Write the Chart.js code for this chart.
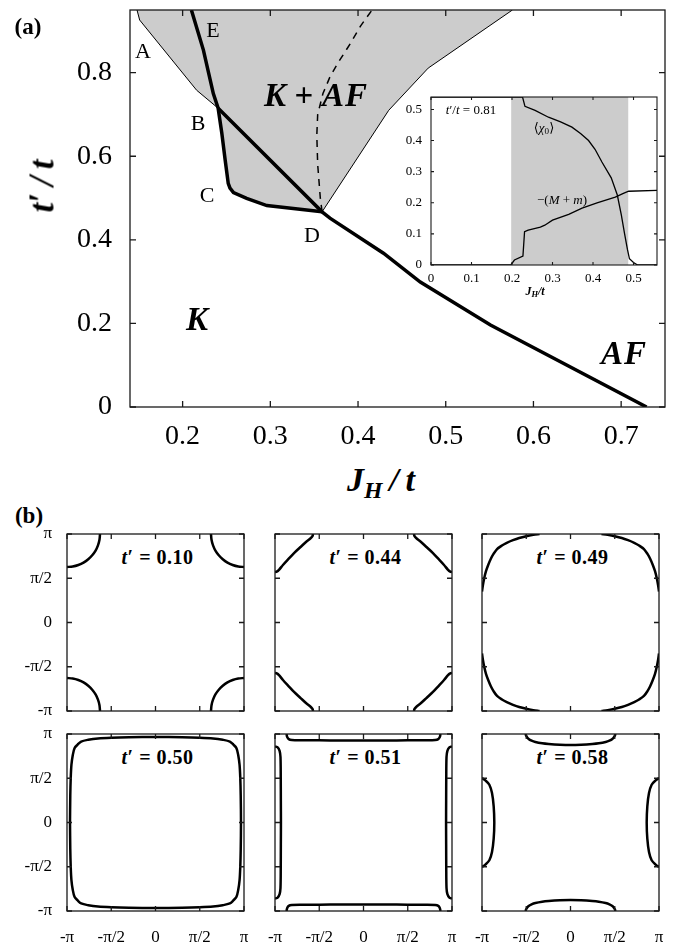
<!DOCTYPE html>
<html><head><meta charset="utf-8">
<script src="https://cdn.jsdelivr.net/npm/chart.js@4.4.1/dist/chart.umd.min.js"></script>
<style>
html,body{margin:0;padding:0;background:#fff;}
body{width:678px;height:948px;position:relative;overflow:hidden;font-family:"Liberation Serif","DejaVu Serif",serif;color:#000;}
canvas{position:absolute;}
.lab{position:absolute;line-height:1;white-space:nowrap;transform:translate(-50%,-50%);}
.bi{font-weight:bold;font-style:italic;}
sub{font-size:0.7em;vertical-align:-0.28em;line-height:0;}
</style></head><body>
<canvas id="main" width="678" height="450" style="left:0;top:0;width:678px;height:450px"></canvas>
<canvas id="inset" width="285" height="215" style="left:380px;top:90px;width:285px;height:215px"></canvas>

<div class="lab" style="left:28px;top:26px;font-size:23px;font-weight:bold">(a)</div>
<div class="lab" style="left:143px;top:51px;font-size:22px">A</div>
<div class="lab" style="left:213px;top:30px;font-size:22px">E</div>
<div class="lab" style="left:198px;top:123px;font-size:22px">B</div>
<div class="lab" style="left:207px;top:195px;font-size:22px">C</div>
<div class="lab" style="left:312px;top:235px;font-size:22px">D</div>
<div class="lab bi" style="left:316px;top:95px;font-size:33px;letter-spacing:1px">K<span style="font-style:normal">&#8201;+&#8201;</span>AF</div>
<div class="lab bi" style="left:197px;top:319px;font-size:33px">K</div>
<div class="lab bi" style="left:624px;top:353px;font-size:33px;letter-spacing:1px">AF</div>
<div class="lab bi" style="left:42px;top:186px;font-size:35px;transform:translate(-50%,-50%) rotate(-90deg)">t&#8242;&#8201;/&#8201;t</div>
<div class="lab bi" style="left:381px;top:480px;font-size:34px">J<sub>H</sub>&#8201;/&#8201;t</div>

<div class="lab" style="left:471px;top:109px;font-size:13px"><i>t</i>&#8242;/<i>t</i> = 0.81</div>
<div class="lab" style="left:544px;top:127px;font-size:13px">&#10216;<i>&#967;</i><sub>0</sub>&#10217;</div>
<div class="lab" style="left:562px;top:199px;font-size:13px">&#8722;(<i>M</i> + <i>m</i>)</div>
<div class="lab bi" style="left:535px;top:291px;font-size:12px">J<sub>H</sub>/t</div>

<div class="lab" style="left:29px;top:515px;font-size:23px;font-weight:bold">(b)</div>
<div id="panelLabels"></div>

<script>
// ---------------- (a) phase diagram data ----------------
const mainXTicks = [0.2, 0.3, 0.4, 0.5, 0.6, 0.7];
const mainXTickLabels = ['0.2', '0.3', '0.4', '0.5', '0.6', '0.7'];
const mainYTicks = [0, 0.2, 0.4, 0.6, 0.8];
const mainYTickLabels = ['0', '0.2', '0.4', '0.6', '0.8'];

// thick line E-B-C-D
const lineEBCD_JH = [0.210, 0.2237, 0.235, 0.2405, 0.2447, 0.2485, 0.252, 0.254, 0.258, 0.273, 0.296, 0.359];
const lineEBCD_tp = [0.950, 0.854, 0.750, 0.715, 0.655, 0.591, 0.535, 0.524, 0.513, 0.499, 0.482, 0.467];
// thick line B-D-(AF boundary)
const lineBDAF_JH = [0.2405, 0.359, 0.368, 0.429, 0.471, 0.551, 0.729];
const lineBDAF_tp = [0.715, 0.467, 0.452, 0.368, 0.299, 0.196, 0.0];
// thin boundary A-B
const lineAB_JH = [0.148, 0.151, 0.216, 0.2405];
const lineAB_tp = [0.950, 0.926, 0.758, 0.715];
// thin boundary D-top
const lineDtop_JH = [0.359, 0.435, 0.480, 0.576];
const lineDtop_tp = [0.467, 0.710, 0.811, 0.950];
// dashed line
const dashed_JH = [0.359, 0.357, 0.354, 0.353, 0.354, 0.360, 0.368, 0.377, 0.391, 0.403, 0.416];
const dashed_tp = [0.467, 0.500, 0.580, 0.650, 0.700, 0.750, 0.790, 0.823, 0.869, 0.912, 0.950];

// ---------------- inset data ----------------
const insetXTicks = [0, 0.1, 0.2, 0.3, 0.4, 0.5];
const insetXTickLabels = ['0', '0.1', '0.2', '0.3', '0.4', '0.5'];
const insetYTicks = [0, 0.1, 0.2, 0.3, 0.4, 0.5];
const insetYTickLabels = ['0', '0.1', '0.2', '0.3', '0.4', '0.5'];
const insetBand = [0.198, 0.487];
const chi0_JH = [0, 0.226, 0.232, 0.257, 0.29, 0.32, 0.348, 0.37, 0.389, 0.405, 0.422, 0.445, 0.46, 0.47, 0.478, 0.485, 0.49, 0.50, 0.51, 0.56];
const chi0_val = [0.54, 0.54, 0.51, 0.497, 0.475, 0.46, 0.443, 0.422, 0.40, 0.372, 0.331, 0.28, 0.225, 0.16, 0.10, 0.05, 0.02, 0.008, 0, 0];
const Mm_JH = [0, 0.197, 0.206, 0.227, 0.231, 0.24, 0.27, 0.281, 0.30, 0.34, 0.373, 0.41, 0.455, 0.475, 0.488, 0.56];
const Mm_val = [0, 0, 0.016, 0.029, 0.107, 0.112, 0.122, 0.128, 0.144, 0.163, 0.183, 0.20, 0.218, 0.23, 0.237, 0.24];

// ---------------- (b) Fermi surfaces (units of pi) ----------------
const piTicks = [-1, -0.5, 0, 0.5, 1];
const piTickLabels = ['-\u03c0', '-\u03c0/2', '0', '\u03c0/2', '\u03c0'];
const fsLabels = ['0.10', '0.44', '0.49', '0.50', '0.51', '0.58'];
// corner pieces (top-left piece, from left edge to top edge)
const fs010_kx = [-1, -0.935, -0.872, -0.813, -0.76, -0.715, -0.677, -0.65, -0.633, -0.627];
const fs010_ky = [0.627, 0.633, 0.65, 0.677, 0.715, 0.76, 0.813, 0.872, 0.935, 1];
const fs044_kx = [-1, -0.98, -0.955, -0.91, -0.85, -0.785, -0.715, -0.65, -0.595, -0.575, -0.57];
const fs044_ky = [0.57, 0.575, 0.595, 0.65, 0.715, 0.785, 0.85, 0.91, 0.955, 0.98, 1];
const fs049_kx = [-1, -0.99, -0.975, -0.955, -0.93, -0.9, -0.87, -0.83, -0.775, -0.72, -0.65, -0.58, -0.5, -0.42, -0.35];
const fs049_ky = [0.35, 0.42, 0.5, 0.58, 0.65, 0.72, 0.775, 0.83, 0.87, 0.9, 0.93, 0.955, 0.975, 0.99, 1];
// closed loop (top-left quadrant, from left-middle to top-middle)
const fs050_kx = [-0.966, -0.963, -0.958, -0.95, -0.935, -0.915, -0.88, -0.84, -0.76, -0.65, -0.5, -0.3, 0];
const fs050_ky = [0, 0.3, 0.5, 0.65, 0.76, 0.84, 0.88, 0.915, 0.935, 0.95, 0.958, 0.963, 0.966];
// edge pieces: top half-arc (from top edge to centre) and left half-arc (from left edge to centre)
const fs051_top_kx = [-0.87, -0.862, -0.845, -0.81, -0.7, -0.5, -0.25, 0];
const fs051_top_ky = [1, 0.965, 0.942, 0.932, 0.929, 0.928, 0.927, 0.927];
const fs051_left_kx = [-1, -0.97, -0.948, -0.938, -0.935, -0.934, -0.933];
const fs051_left_ky = [0.86, 0.848, 0.81, 0.74, 0.5, 0.25, 0];
const fs058_top_kx = [-0.51, -0.495, -0.473, -0.44, -0.397, -0.32, -0.247, -0.12, 0];
const fs058_top_ky = [1, 0.97, 0.944, 0.925, 0.91, 0.895, 0.887, 0.879, 0.876];
const fs058_left_kx = [-1, -0.962, -0.917, -0.887, -0.868, -0.861];
const fs058_left_ky = [0.503, 0.476, 0.427, 0.333, 0.183, 0];

// ---------------- helpers ----------------
const FONT = '"Liberation Serif","DejaVu Serif",serif';
const pts = (xs, ys) => xs.map((v, i) => ({x: v, y: ys[i]}));

function frameTicks(len, lw) {
  return {
    id: 'frameTicks',
    afterDatasetsDraw(chart) {
      const {ctx, chartArea: a, scales: {x, y}} = chart;
      ctx.save();
      ctx.strokeStyle = '#1a1a1a';
      ctx.lineWidth = lw;
      ctx.beginPath();
      x.ticks.forEach(t => {
        const p = x.getPixelForValue(t.value);
        ctx.moveTo(p, a.bottom); ctx.lineTo(p, a.bottom - len);
        ctx.moveTo(p, a.top); ctx.lineTo(p, a.top + len);
      });
      y.ticks.forEach(t => {
        const p = y.getPixelForValue(t.value);
        ctx.moveTo(a.left, p); ctx.lineTo(a.left + len, p);
        ctx.moveTo(a.right, p); ctx.lineTo(a.right - len, p);
      });
      ctx.stroke();
      ctx.strokeRect(a.left, a.top, a.right - a.left, a.bottom - a.top);
      ctx.restore();
    }
  };
}

function axis(min, max, ticks, labels, opts) {
  return {
    type: 'linear', min: min, max: max,
    grid: {display: false, drawTicks: false},
    border: {display: false},
    afterBuildTicks: s => { s.ticks = ticks.map(v => ({value: v})); },
    afterFit: s => {
      if (opts.w !== undefined) s.width = opts.w;
      if (opts.h !== undefined) s.height = opts.h;
      s.paddingTop = 0; s.paddingBottom = 0; s.paddingLeft = 0; s.paddingRight = 0;
    },
    ticks: {
      display: opts.show !== false,
      autoSkip: false, maxRotation: 0, minRotation: 0,
      padding: opts.pad, color: '#000',
      font: {family: FONT, size: opts.size},
      callback: v => labels[ticks.indexOf(v)]
    }
  };
}

function line(data, w, extra) {
  return Object.assign({data: data, showLine: true, borderColor: '#000', borderWidth: w,
    pointRadius: 0, fill: false, tension: 0}, extra || {});
}

const baseOpts = {
  responsive: false, animation: false, events: [],
  plugins: {legend: {display: false}, tooltip: {enabled: false}}
};

// ---------------- main chart ----------------
(function () {
  // shaded K+AF region: right boundary (top->D), lower thick curve (D->B), left thin boundary (B->A)
  const bIdx = lineEBCD_JH.indexOf(0.2405);
  const shade = [].concat(
    pts(lineDtop_JH, lineDtop_tp).reverse(),
    pts(lineEBCD_JH.slice(bIdx), lineEBCD_tp.slice(bIdx)).reverse(),
    pts(lineAB_JH, lineAB_tp).reverse()
  );
  const shadePlugin = {
    id: 'shade',
    beforeDatasetsDraw(chart) {
      const {ctx, chartArea: a, scales: {x, y}} = chart;
      ctx.save();
      ctx.beginPath(); ctx.rect(a.left, a.top, a.right - a.left, a.bottom - a.top); ctx.clip();
      ctx.fillStyle = '#cccccc';
      ctx.beginPath();
      shade.forEach((p, i) => {
        const px = x.getPixelForValue(p.x), py = y.getPixelForValue(p.y);
        if (i) ctx.lineTo(px, py); else ctx.moveTo(px, py);
      });
      ctx.closePath(); ctx.fill();
      ctx.restore();
    }
  };
  new Chart(document.getElementById('main'), {
    type: 'scatter',
    data: {datasets: [
      line(pts(lineAB_JH, lineAB_tp), 1),
      line(pts(lineDtop_JH, lineDtop_tp), 1),
      line(pts(dashed_JH, dashed_tp), 1.5, {borderDash: [7, 6]}),
      line(pts(lineEBCD_JH, lineEBCD_tp), 3.5),
      line(pts(lineBDAF_JH, lineBDAF_tp), 3.5)
    ]},
    options: Object.assign({}, baseOpts, {
      layout: {padding: {left: 0, right: 13, top: 10, bottom: 0}},
      scales: {
        x: axis(0.14, 0.75, mainXTicks, mainXTickLabels, {h: 43, pad: 13, size: 28}),
        y: axis(0, 0.95, mainYTicks, mainYTickLabels, {w: 130, pad: 18, size: 28})
      }
    }),
    plugins: [shadePlugin, frameTicks(6, 1.3)]
  });
})();

// ---------------- inset ----------------
(function () {
  const bandPlugin = {
    id: 'band',
    beforeDatasetsDraw(chart) {
      const {ctx, chartArea: a, scales: {x}} = chart;
      ctx.save();
      ctx.fillStyle = '#ffffff';
      ctx.fillRect(a.left, a.top, a.right - a.left, a.bottom - a.top);
      ctx.fillStyle = '#cccccc';
      const x0 = x.getPixelForValue(insetBand[0]), x1 = x.getPixelForValue(insetBand[1]);
      ctx.fillRect(x0, a.top, x1 - x0, a.bottom - a.top);
      ctx.restore();
    }
  };
  new Chart(document.getElementById('inset'), {
    type: 'scatter',
    data: {datasets: [
      line(pts(chi0_JH, chi0_val), 1.3),
      line(pts(Mm_JH, Mm_val), 1.3)
    ]},
    options: Object.assign({}, baseOpts, {
      layout: {padding: {left: 0, right: 8, top: 7, bottom: 0}},
      scales: {
        x: axis(0, 0.558, insetXTicks, insetXTickLabels, {h: 40, pad: 6, size: 13}),
        y: axis(0, 0.54, insetYTicks, insetYTickLabels, {w: 51, pad: 9, size: 13})
      }
    }),
    plugins: [bandPlugin, frameTicks(3, 1.1)]
  });
})();

// ---------------- (b) panels ----------------
function cornerPieces(kx, ky) {
  return [[1, 1], [-1, 1], [1, -1], [-1, -1]].map(([sx, sy]) =>
    kx.map((v, i) => ({x: sx * v, y: sy * ky[i]})));
}
function closedLoop(kx, ky) {
  const q = pts(kx, ky);
  const tl = q;
  const tr = q.slice(0, -1).reverse().map(p => ({x: -p.x, y: p.y}));
  const br = q.slice(1).map(p => ({x: -p.x, y: -p.y}));
  const bl = q.slice(0, -1).reverse().map(p => ({x: p.x, y: -p.y}));
  return [tl.concat(tr, br, bl)];
}
function edgePieces(tkx, tky, lkx, lky) {
  const topHalf = pts(tkx, tky);
  const top = topHalf.concat(topHalf.slice(0, -1).reverse().map(p => ({x: -p.x, y: p.y})));
  const bottom = top.map(p => ({x: p.x, y: -p.y}));
  const leftHalf = pts(lkx, lky);
  const left = leftHalf.concat(leftHalf.slice(0, -1).reverse().map(p => ({x: p.x, y: -p.y})));
  const right = left.map(p => ({x: -p.x, y: p.y}));
  return [top, bottom, left, right];
}

const panelCurves = [
  cornerPieces(fs010_kx, fs010_ky),
  cornerPieces(fs044_kx, fs044_ky),
  cornerPieces(fs049_kx, fs049_ky),
  closedLoop(fs050_kx, fs050_ky),
  edgePieces(fs051_top_kx, fs051_top_ky, fs051_left_kx, fs051_left_ky),
  edgePieces(fs058_top_kx, fs058_top_ky, fs058_left_kx, fs058_left_ky)
];

const colLeft = [67, 275, 482];
const rowTop = [534, 734];
const PSZ = 177;
const labelHost = document.getElementById('panelLabels');

panelCurves.forEach((curves, k) => {
  const col = k % 3, row = Math.floor(k / 3);
  const cv = document.createElement('canvas');
  const W = 60 + PSZ + 10, H = 10 + PSZ + 36;
  cv.width = W; cv.height = H;
  cv.style.left = (colLeft[col] - 60) + 'px';
  cv.style.top = (rowTop[row] - 10) + 'px';
  cv.style.width = W + 'px'; cv.style.height = H + 'px';
  document.body.appendChild(cv);
  new Chart(cv, {
    type: 'scatter',
    data: {datasets: curves.map(c => line(c, 2.5, {tension: 0.3}))},
    options: Object.assign({}, baseOpts, {
      layout: {padding: {left: 0, right: 10, top: 10, bottom: 0}},
      scales: {
        x: axis(-1, 1, piTicks, piTickLabels, {h: 36, pad: 16, size: 17, show: row === 1}),
        y: axis(-1, 1, piTicks, piTickLabels, {w: 60, pad: 15, size: 17, show: col === 0})
      }
    }),
    plugins: [frameTicks(5, 1.3)]
  });
  const lab = document.createElement('div');
  lab.className = 'lab';
  lab.style.left = (colLeft[col] + PSZ / 2 + 2) + 'px';
  lab.style.top = (rowTop[row] + 23) + 'px';
  lab.style.fontSize = '20px';
  lab.style.fontWeight = 'bold';
  lab.style.letterSpacing = '0.5px';
  lab.innerHTML = '<i>t</i>&#8242; = ' + fsLabels[k];
  labelHost.appendChild(lab);
});
</script>
</body></html>
